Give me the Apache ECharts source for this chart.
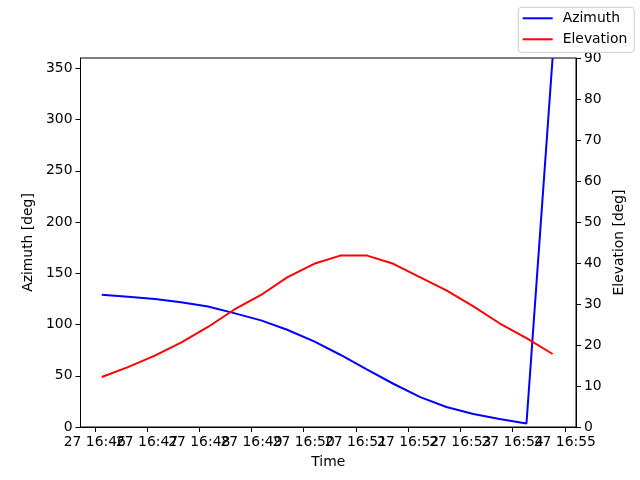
<!DOCTYPE html>
<html>
<head>
<meta charset="utf-8">
<script src="https://cdn.jsdelivr.net/npm/echarts@6/dist/echarts.min.js"></script>
<style>
  html, body { margin: 0; padding: 0; background: #fff; }
  #main { width: 640px; height: 480px; }
</style>
</head>
<body>
<div id="main"></div>
<script>
// sample times (27th, 16:mm:ss)
var times = ['16:46:08', '16:46:38', '16:47:09', '16:47:39', '16:48:10', '16:48:40',
             '16:49:11', '16:49:41', '16:50:12', '16:50:42', '16:51:13', '16:51:43',
             '16:52:14', '16:52:44', '16:53:15', '16:53:45', '16:54:16', '16:54:46'];
// azimuth [deg]
var azimuth = [129, 127, 124.8, 121.8, 117.6, 111.1, 104, 94.9, 83.5, 70.5, 55.9, 42.2,
               29.2, 19.5, 12.7, 7.8, 3.5, 360];
// elevation [deg]
var elevation = [12.2, 14.6, 17.4, 20.6, 24.4, 28.6, 32.2, 36.5, 39.8, 41.8, 41.8, 39.8,
                 36.5, 33.3, 29.4, 25.3, 21.7, 17.8];
// tick labels
var minuteTicks = [46, 47, 48, 49, 50, 51, 52, 53, 54, 55];
var azTicks = [0, 50, 100, 150, 200, 250, 300, 350];
var elTicks = [0, 10, 20, 30, 40, 50, 60, 70, 80, 90];

// time string -> minutes past 16:00
function toMin(t) {
    var p = t.split(':');
    return (+p[1]) + (+p[2]) / 60;
}

var azData = times.map(function (t, i) { return [toMin(t), azimuth[i]]; });
var elData = times.map(function (t, i) { return [toMin(t), elevation[i]]; });

// labels overlap like in the original, split them over two axes so none get dropped
var evenTicks = minuteTicks.filter(function (m) { return m % 2 === 0; });
var oddTicks = minuteTicks.filter(function (m) { return m % 2 === 1; });

var FONT = 'DejaVu Sans';
var FS = 13.9;
var XMIN = 45.726, XMAX = 55.215;

var mycharts = echarts.init(document.getElementById('main'));

function timeLabel(ticks) {
    return {
        fontFamily: FONT, fontSize: FS, color: '#000', margin: 8,
        customValues: ticks,
        formatter: function (v) { return '27 16:' + v; }
    };
}

var option = {
    backgroundColor: '#ffffff',
    textStyle: { fontFamily: FONT },
    animation: false,
    grid: {
        left: 80.5, right: 64, top: 58, bottom: 53,
        show: true, borderColor: '#000', borderWidth: 1, backgroundColor: 'transparent'
    },
    legend: {
        orient: 'vertical',
        left: 518.3, top: 7.3,
        padding: [4, 7, 6, 4.4],
        itemGap: 7,
        itemWidth: 30, itemHeight: 2,
        icon: 'rect',
        borderColor: '#cccccc', borderWidth: 1, borderRadius: 3,
        backgroundColor: 'rgba(255,255,255,0.8)',
        textStyle: { fontFamily: FONT, fontSize: FS, color: '#000', lineHeight: 14, padding: [0, 0, 0, 5] },
        data: ['Azimuth', 'Elevation']
    },
    xAxis: [
        {
            type: 'value', position: 'bottom',
            min: XMIN, max: XMAX,
            name: 'Time',
            nameLocation: 'middle',
            nameGap: 28,
            nameTextStyle: { fontFamily: FONT, fontSize: FS, color: '#000' },
            axisLine: { show: true, lineStyle: { color: '#000', width: 1 } },
            axisTick: { show: true, length: 5, lineStyle: { color: '#000' }, customValues: minuteTicks },
            axisLabel: timeLabel(evenTicks),
            splitLine: { show: false }
        },
        {
            type: 'value', position: 'bottom', offset: 0,
            min: XMIN, max: XMAX,
            axisLine: { show: false },
            axisTick: { show: false },
            axisLabel: timeLabel(oddTicks),
            splitLine: { show: false }
        }
    ],
    yAxis: [
        {
            type: 'value', min: 0, max: 360,
            position: 'left',
            name: 'Azimuth [deg]',
            nameLocation: 'middle', nameGap: 40,
            nameTextStyle: { fontFamily: FONT, fontSize: FS, color: '#000' },
            axisLine: { show: true, lineStyle: { color: '#000', width: 1 } },
            axisTick: { show: true, length: 5, lineStyle: { color: '#000' }, customValues: azTicks },
            axisLabel: { fontFamily: FONT, fontSize: FS, color: '#000', margin: 8, customValues: azTicks },
            splitLine: { show: false }
        },
        {
            type: 'value', min: 0, max: 90,
            position: 'right',
            name: 'Elevation [deg]',
            nameLocation: 'middle', nameGap: 26,
            nameTextStyle: { fontFamily: FONT, fontSize: FS, color: '#000' },
            axisLine: { show: true, lineStyle: { color: '#000', width: 1 } },
            axisTick: { show: true, length: 5, lineStyle: { color: '#000' }, customValues: elTicks },
            axisLabel: { fontFamily: FONT, fontSize: FS, color: '#000', margin: 8, customValues: elTicks },
            splitLine: { show: false }
        }
    ],
    series: [
        {
            name: 'Azimuth', type: 'line', xAxisIndex: 0, yAxisIndex: 0,
            data: azData, symbol: 'none', clip: true,
            itemStyle: { color: '#0000ff' },
            lineStyle: { color: '#0000ff', width: 2 }
        },
        {
            name: 'Elevation', type: 'line', xAxisIndex: 0, yAxisIndex: 1,
            data: elData, symbol: 'none', clip: true,
            itemStyle: { color: '#ff0000' },
            lineStyle: { color: '#ff0000', width: 2 }
        }
    ]
};

mycharts.setOption(option);
</script>
</body>
</html>
